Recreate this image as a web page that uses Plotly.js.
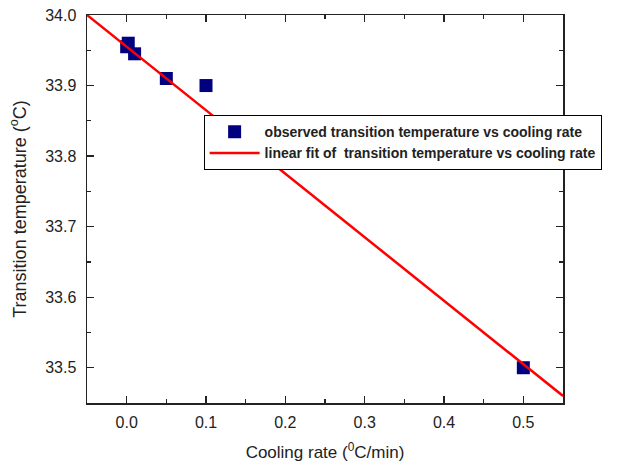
<!DOCTYPE html>
<html>
<head>
<meta charset="utf-8">
<script src="https://cdn.plot.ly/plotly-3.0.1.min.js"></script>
<style>html,body{margin:0;padding:0;background:#fff;}#chart{width:643px;height:466px;}</style>
</head>
<body>
<div id="chart"></div>
<script>
// Observed data
const coolingRate = [0.0, 0.002, 0.01, 0.05, 0.1, 0.5];
const transitionTemp = [33.955, 33.96, 33.945, 33.91, 33.90, 33.50];
// Linear fit line endpoints
const fitX = [-0.05, 0.55];
const fitY = [34.0, 33.46];
const legendNames = ["observed transition temperature vs cooling rate", "linear fit of&nbsp; transition temperature vs cooling rate"];

const font = "Liberation Sans, Arial, sans-serif";

const traces = [
  {
    x: coolingRate, y: transitionTemp, type: 'scatter', mode: 'markers',
    name: legendNames[0],
    marker: {symbol: 'square', size: 13, color: '#000080', line: {width: 0}},
    cliponaxis: false
  },
  {
    x: fitX, y: fitY, type: 'scatter', mode: 'lines',
    name: legendNames[1],
    line: {color: '#ff0000', width: 2.5}
  }
];

const axisCommon = {
  showgrid: false, zeroline: false, showline: true, linecolor: '#222', linewidth: 1.5,
  mirror: 'allticks', ticks: 'inside', ticklen: 7, tickwidth: 1.2, tickcolor: '#222',
  tickfont: {family: font, size: 16, color: '#222'}, automargin: false
};

const layout = {
  width: 643, height: 466,
  margin: {l: 87, r: 80, t: 15, b: 63},
  paper_bgcolor: '#fff', plot_bgcolor: '#fff',
  showlegend: true,
  xaxis: Object.assign({}, axisCommon, {
    range: [-0.05, 0.55], dtick: 0.1, tick0: 0, tickformat: '.1f',
    ticklabelstandoff: 4,
    minor: {ticks: 'inside', ticklen: 4, dtick: 0.05, tick0: 0, tickcolor: '#222'},
    title: {text: 'Cooling rate (<sup>0</sup>C/min)', font: {family: font, size: 17, color: '#222'}, standoff: 16}
  }),
  yaxis: Object.assign({}, axisCommon, {
    range: [33.45, 34.0], dtick: 0.1, tick0: 33.5, tickformat: '.1f',
    ticklabelstandoff: 6,
    minor: {ticks: 'inside', ticklen: 4, dtick: 0.05, tick0: 33.5, tickcolor: '#222'},
    title: {text: 'Transition temperature (<sup>o</sup>C)', font: {family: font, size: 18, color: '#222'}, standoff: 14}
  }),
  legend: {
    x: 0.245, y: 0.742, xanchor: 'left', yanchor: 'top',
    bgcolor: '#fff', bordercolor: '#000', borderwidth: 1,
    font: {family: font, size: 14, color: '#222', weight: 'bold'},
    itemwidth: 50, tracegroupgap: 0
  }
};

Plotly.newPlot('chart', traces, layout, {displayModeBar: false, staticPlot: true});
</script>
</body>
</html>
